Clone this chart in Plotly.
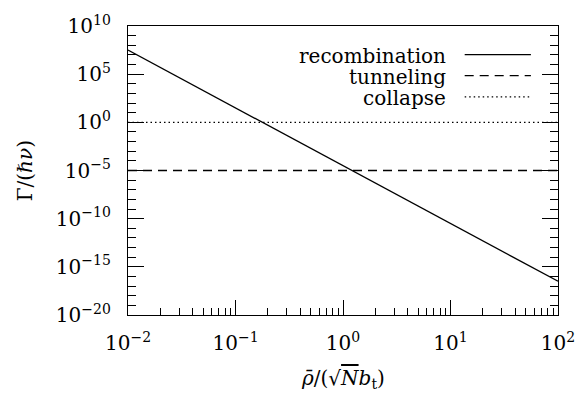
import plotly.graph_objects as go

# ---- data ----
x_range_pts = [1e-2, 1e2]
recombination_y = [10**7.5, 10**-16.5]
tunneling_y = [1e-5, 1e-5]
collapse_y = [1.0, 1.0]

series_names = ["recombination", "tunneling", "collapse"]

x_decades = [1e-2, 1e-1, 1e0, 1e1, 1e2]
x_labels = ["10<sup>−2</sup>", "10<sup>−1</sup>", "10<sup>0</sup>", "10<sup>1</sup>", "10<sup>2</sup>"]
y_majors = [1e-20, 1e-15, 1e-10, 1e-5, 1e0, 1e5, 1e10]
y_labels = ["10<sup>−20</sup>", "10<sup>−15</sup>", "10<sup>−10</sup>", "10<sup>−5</sup>",
            "10<sup>0</sup>", "10<sup>5</sup>", "10<sup>10</sup>"]

# all tick positions (short ticks); labels only at the major ones
x_all = [m * d for d in x_decades[:-1] for m in range(1, 10)] + [x_decades[-1]]
x_all_text = [x_labels[x_decades.index(v)] if v in x_decades else "" for v in x_all]
y_exps = list(range(-20, 11))
y_all = [10.0 ** k for k in y_exps]
y_all_text = [y_labels[(k + 20) // 5] if k % 5 == 0 else "" for k in y_exps]

FONT = "DejaVu Serif"
FS = 20
DASH = "9px,6px"
DOT = "1.5px,3px"

fig = go.Figure()
fig.add_trace(go.Scatter(x=x_range_pts, y=recombination_y, mode="lines",
                         line=dict(color="black", width=1.3), name=series_names[0]))
fig.add_trace(go.Scatter(x=x_range_pts, y=tunneling_y, mode="lines", xaxis="x2", yaxis="y2",
                         line=dict(color="black", width=1.3, dash=DASH), name=series_names[1]))
fig.add_trace(go.Scatter(x=x_range_pts, y=collapse_y, mode="lines",
                         line=dict(color="black", width=1.3, dash=DOT), name=series_names[2]))

base = dict(type="log", showgrid=False, zeroline=False, showline=True, linecolor="black",
            linewidth=1.3, ticks="inside", tickcolor="black", tickwidth=1.2,
            tickfont=dict(family=FONT, size=FS, color="black"))

fig.update_layout(
    xaxis=dict(range=[-2, 2], tickvals=x_all, ticktext=x_all_text, ticklen=7, tickangle=0,
               mirror=True, ticklabelstandoff=10, **base),
    yaxis=dict(range=[-20, 10], tickvals=y_all, ticktext=y_all_text, ticklen=8,
               mirror="allticks", ticklabelstandoff=12, **base),
    xaxis2=dict(range=[-2, 2], overlaying="x", anchor="y", side="bottom",
                tickvals=x_decades, ticklen=15, showticklabels=False, mirror=False, **base),
    yaxis2=dict(range=[-20, 10], overlaying="y", anchor="x", side="left",
                tickvals=y_majors, ticklen=16, showticklabels=False, mirror="allticks", **base),
)

# custom legend (text left, sample right)
leg_text_y = [0.895, 0.824, 0.750]
leg_line_y = [0.901, 0.828, 0.755]
dashes = ["solid", DASH, DOT]
for name, ty, ly, d in zip(series_names, leg_text_y, leg_line_y, dashes):
    fig.add_annotation(x=0.744, y=ty, xref="paper", yref="paper", text=name,
                       showarrow=False, xanchor="right", yanchor="middle",
                       font=dict(family=FONT, size=FS, color="black"))
    fig.add_shape(type="line", xref="paper", yref="paper", x0=0.783, x1=0.937,
                  y0=ly, y1=ly, line=dict(color="black", width=1.3, dash=d))

fig.add_annotation(x=0.5, y=-0.22, xref="paper", yref="paper",
                   text="<i>ρ̄</i>/(√<span style='text-decoration:overline'><i>N</i></span><i>b</i><sub>t</sub>)",
                   showarrow=False, xanchor="center", yanchor="middle",
                   font=dict(family=FONT, size=FS, color="black"))
fig.add_annotation(x=-0.24, y=0.5, xref="paper", yref="paper",
                   text="Γ/(ℏ<i>ν</i>)", textangle=-90,
                   showarrow=False, xanchor="center", yanchor="middle",
                   font=dict(family=FONT, size=FS, color="black"))

fig.update_layout(width=587, height=396, showlegend=False,
                  margin=dict(l=128, r=19, t=19, b=81),
                  paper_bgcolor="white", plot_bgcolor="white")

fig.write_html("out.html", config={"displayModeBar": False},
               post_script="document.body.style.margin='0';document.body.style.overflow='hidden';")
